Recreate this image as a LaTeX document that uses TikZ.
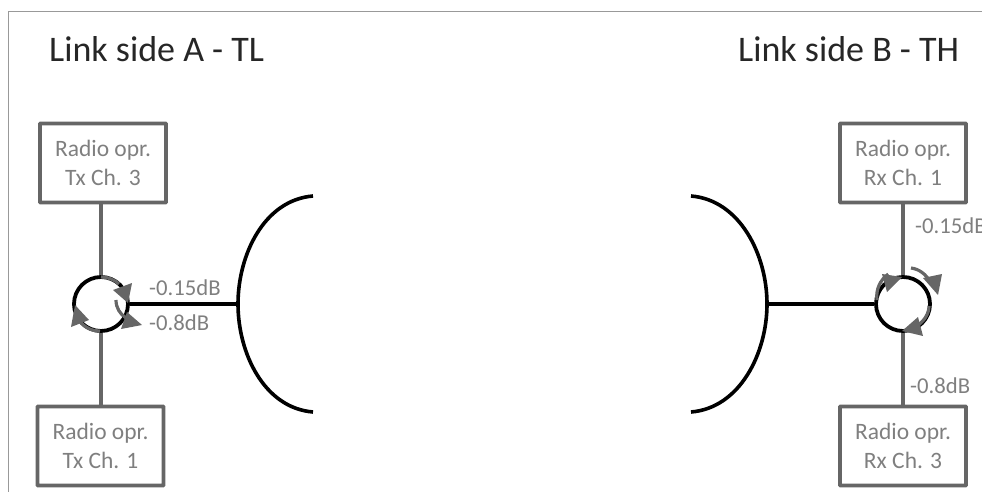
\documentclass[tikz,border=0pt]{standalone}
\usepackage{fontspec}
\setmainfont{Carlito}
\definecolor{dg}{HTML}{666666}
\definecolor{tg}{HTML}{7F7F7F}
\tikzset{
 radiobox/.style={draw=dg,line width=3.8pt,rounded corners=0.6pt,minimum width=126pt,minimum height=79pt,inner sep=0pt,align=center,text=tg,font=\fontsize{23.5}{28.5}\selectfont},
 circ/.style={circle,draw=black,line width=3.8pt,minimum size=54pt,inner sep=0pt},
 blk/.style={draw=black,line width=3.6pt},
 gline/.style={draw=dg,line width=3.6pt},
 garc/.style={draw=dg,line width=3.2pt},
 head/.style={fill=dg,draw=none},
 lbl/.style={text=tg,font=\fontsize{22.7}{24}\selectfont,inner sep=0pt},
 ttl/.style={text=black!85,font=\fontsize{36}{40}\selectfont,inner sep=0pt},
 frameline/.style={draw=black!40,line width=1pt}
}
\begin{document}
\begin{tikzpicture}[x=1pt,y=-1pt]
\useasboundingbox (0,0) rectangle (982,492);
\coordinate (fa) at (8,492); \coordinate (fb) at (8,12); \coordinate (fc) at (982,12);
\draw[frameline] (fa) -- (fb) -- (fc);
\node[ttl,anchor=base west] (ta) at (49,62) {Link side A - TL};
\node[ttl,anchor=base west] (tb) at (738,62) {Link side B - TH};
\node[radiobox] (a1) at (103,163) {Radio opr.\\Tx Ch. 3};
\node[radiobox] (a2) at (100.5,446) {Radio opr.\\Tx Ch. 1};
\node[radiobox] (b1) at (903,163) {Radio opr.\\Rx Ch. 1};
\node[radiobox] (b2) at (903,446) {Radio opr.\\Rx Ch. 3};
\node[circ] (ca) at (101,304) {};
\node[circ] (cb) at (903,304) {};
\coordinate (da1) at (313,196); \coordinate (da) at (238,304); \coordinate (da2) at (313,412);
\coordinate (db1) at (691,196); \coordinate (db) at (767,304); \coordinate (db2) at (691,412);
\draw[blk] (da1) .. controls (264,200) and (238,255) .. (da) .. controls (238,353) and (264,408) .. (da2);
\draw[blk] (db1) .. controls (740,200) and (767,255) .. (db) .. controls (767,353) and (740,408) .. (db2);
\draw[gline] (a1.south -| ca) -- (ca.north);
\draw[gline] (a2.north -| ca) -- (ca.south);
\draw[gline] (b1.south -| cb) -- (cb.north);
\draw[gline] (b2.north -| cb) -- (cb.south);
\draw[blk] (ca.east) -- (da);
\draw[blk] (cb.west) -- (db);
% circulator arrows, side A
\draw[garc] (101,277) arc[start angle=-90,end angle=-48,radius=27];
\fill[head] (113,290) -- (132,283) -- (128,303) -- cycle;
\draw[garc] (116,300) .. controls (116,308) and (120,314) .. (126,318);
\fill[head] (127,312) -- (142,325) -- (121,329) -- cycle;
\draw[garc] (100,331) .. controls (90,331) and (82,326) .. (78,318);
\fill[head] (71,327) -- (89,320) -- (75,305) -- cycle;
% circulator arrows, side B
\draw[garc] (877,300) arc[start angle=-188,end angle=-125,radius=27];
\fill[head] (882,274) -- (902,277) -- (887,292) -- cycle;
\draw[garc] (911,268) .. controls (919,269) and (926,274) .. (931,283);
\fill[head] (923,278) -- (942,274) -- (938,295) -- cycle;
\draw[garc] (929,306) .. controls (929,314) and (924,322) .. (914,328);
\fill[head] (923,336) -- (902,331) -- (918,317) -- cycle;
\node[lbl,anchor=base west] (l1) at (149,295) {-0.15dB};
\node[lbl,anchor=base west] (l2) at (149,330) {-0.8dB};
\node[lbl,anchor=base west] (l3) at (915,233) {-0.15dB};
\node[lbl,anchor=base west] (l4) at (910,393) {-0.8dB};
\end{tikzpicture}
\end{document}
